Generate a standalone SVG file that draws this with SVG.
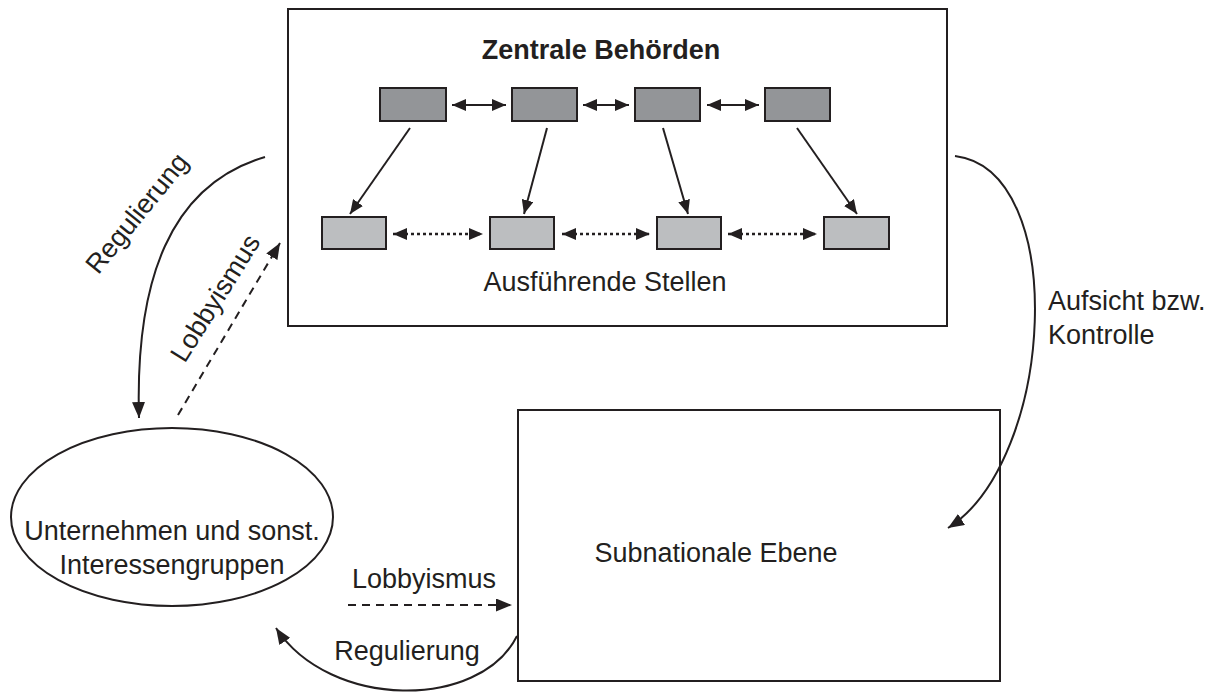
<svg xmlns="http://www.w3.org/2000/svg" width="1213" height="693" viewBox="0 0 1213 693">
<defs>
<style>
text{font-family:"Liberation Sans",Arial,sans-serif;font-size:27px;fill:#231f20}
.frame{fill:#fff;stroke:#231f20;stroke-width:2}
.dark{fill:#939598;stroke:#231f20;stroke-width:2}
.light{fill:#bcbec0;stroke:#231f20;stroke-width:2}
.ln{fill:none;stroke:#231f20;stroke-width:2}
.dash{fill:none;stroke:#231f20;stroke-width:2;stroke-dasharray:8 6}
.dot{fill:none;stroke:#231f20;stroke-width:2.5;stroke-dasharray:3 3}
</style>
<marker id="ah" viewBox="0 0 14 12" refX="14" refY="6" markerWidth="14" markerHeight="12" markerUnits="userSpaceOnUse" orient="auto-start-reverse"><path d="M0,0 L14,6 L0,12 z" fill="#231f20"/></marker>
<marker id="ahb" viewBox="0 0 16 13" refX="16" refY="6.5" markerWidth="16" markerHeight="13" markerUnits="userSpaceOnUse" orient="auto-start-reverse"><path d="M0,0 L16,6.5 L0,13 z" fill="#231f20"/></marker>
</defs>
<rect width="1213" height="693" fill="#fff"/>
<g id="zentrale">
<rect class="frame" x="288" y="9" width="659" height="317"/>
<text x="601" y="59" text-anchor="middle" font-weight="bold">Zentrale Behörden</text>
<text x="605" y="291" text-anchor="middle">Ausführende Stellen</text>
</g>
<g id="b1"><rect class="dark" x="380" y="88" width="66" height="33"/></g>
<g id="b2"><rect class="dark" x="512" y="88" width="65" height="33"/></g>
<g id="b3"><rect class="dark" x="635" y="88" width="65" height="33"/></g>
<g id="b4"><rect class="dark" x="765" y="88" width="65" height="33"/></g>
<g id="s1"><rect class="light" x="322" y="217" width="64" height="32"/></g>
<g id="s2"><rect class="light" x="490" y="217" width="64" height="32"/></g>
<g id="s3"><rect class="light" x="657" y="217" width="64" height="32"/></g>
<g id="s4"><rect class="light" x="824" y="217" width="65" height="32"/></g>
<g id="subnational">
<rect class="frame" x="518" y="410" width="482" height="271"/>
<text x="716" y="562" text-anchor="middle">Subnationale Ebene</text>
</g>
<g id="unternehmen">
<ellipse class="frame" cx="172" cy="517" rx="161" ry="89"/>
<text x="172" y="540" text-anchor="middle">Unternehmen und sonst.</text>
<text x="172" y="574" text-anchor="middle">Interessengruppen</text>
</g>
<g id="connectors">
<line class="ln" x1="452" y1="105" x2="506" y2="105" marker-start="url(#ah)" marker-end="url(#ah)"/>
<line class="ln" x1="583" y1="105" x2="629" y2="105" marker-start="url(#ah)" marker-end="url(#ah)"/>
<line class="ln" x1="707" y1="105" x2="759" y2="105" marker-start="url(#ah)" marker-end="url(#ah)"/>
<line class="dot" x1="393" y1="234" x2="483" y2="234" marker-start="url(#ah)" marker-end="url(#ah)"/>
<line class="dot" x1="562" y1="234" x2="650" y2="234" marker-start="url(#ah)" marker-end="url(#ah)"/>
<line class="dot" x1="728" y1="234" x2="817" y2="234" marker-start="url(#ah)" marker-end="url(#ah)"/>
<line class="ln" x1="410" y1="128" x2="350" y2="214" marker-end="url(#ah)"/>
<line class="ln" x1="547" y1="128" x2="524" y2="214" marker-end="url(#ah)"/>
<line class="ln" x1="663" y1="128" x2="688" y2="214" marker-end="url(#ah)"/>
<line class="ln" x1="797" y1="128" x2="857" y2="214" marker-end="url(#ah)"/>
<path class="ln" d="M265,157 C170,185 135,280 139,418" marker-end="url(#ahb)"/>
<line class="dash" x1="178" y1="415" x2="280" y2="243" marker-end="url(#ahb)"/>
<path class="ln" d="M955,156 C1070,170 1055,460 948,528" marker-end="url(#ahb)"/>
<path class="ln" d="M517,636 C480,710 330,710 276,628" marker-end="url(#ahb)"/>
<line class="dash" x1="348" y1="605" x2="512" y2="605" marker-end="url(#ahb)"/>
<text transform="translate(144,219) rotate(-51)" text-anchor="middle">Regulierung</text>
<text transform="translate(223,303) rotate(-58)" text-anchor="middle">Lobbyismus</text>
<text x="424" y="588" text-anchor="middle">Lobbyismus</text>
<text x="407" y="660" text-anchor="middle">Regulierung</text>
<text x="1048" y="310">Aufsicht bzw.</text>
<text x="1048" y="344">Kontrolle</text>
</g>
</svg>
